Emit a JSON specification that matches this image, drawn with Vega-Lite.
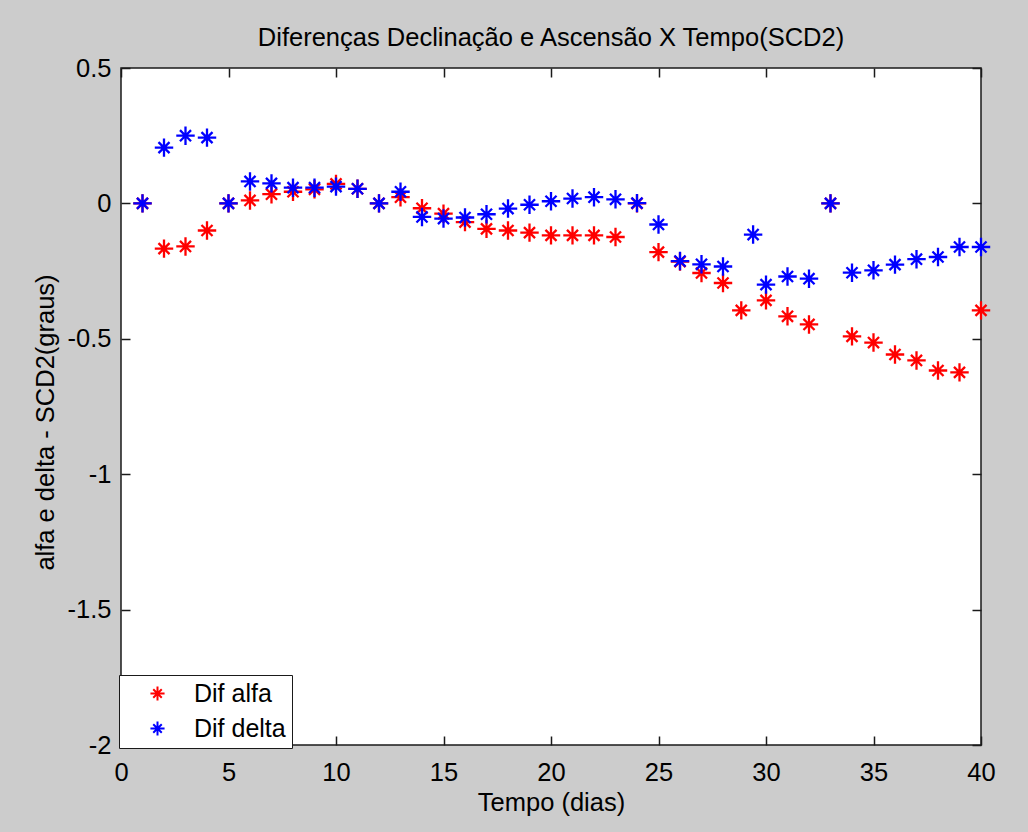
{
  "$schema": "https://vega.github.io/schema/vega-lite/v6.json",
  "autosize": "none",
  "width": 860,
  "height": 677,
  "padding": {"left": 121, "top": 68, "right": 47, "bottom": 87},
  "background": "#cccccc",
  "title": {"text": "Diferenças Declinação e Ascensão X Tempo(SCD2)", "font": "Liberation Sans", "fontSize": 25.5, "fontWeight": "normal", "color": "#000000", "offset": 5, "anchor": "middle"},
  "config": {
    "view": {"fill": "#ffffff", "stroke": "#1a1a1a", "strokeWidth": 1.5},
    "axis": {"labelFont": "Liberation Sans", "titleFont": "Liberation Sans", "labelFontSize": 25.5, "titleFontSize": 25.5, "titleFontWeight": "normal", "labelColor": "#000000", "titleColor": "#000000", "grid": false, "domain": false, "tickColor": "#1a1a1a", "tickWidth": 1.5, "tickSize": 9, "labelFlush": false}
  },
  "data": {"values": [
    {"t": 1, "v": 0, "s": "Dif alfa"},
    {"t": 2, "v": -0.167, "s": "Dif alfa"},
    {"t": 3, "v": -0.159, "s": "Dif alfa"},
    {"t": 4, "v": -0.1, "s": "Dif alfa"},
    {"t": 5, "v": 0, "s": "Dif alfa"},
    {"t": 6, "v": 0.011, "s": "Dif alfa"},
    {"t": 7, "v": 0.034, "s": "Dif alfa"},
    {"t": 8, "v": 0.043, "s": "Dif alfa"},
    {"t": 9, "v": 0.052, "s": "Dif alfa"},
    {"t": 10, "v": 0.072, "s": "Dif alfa"},
    {"t": 11, "v": 0.054, "s": "Dif alfa"},
    {"t": 12, "v": 0, "s": "Dif alfa"},
    {"t": 13, "v": 0.023, "s": "Dif alfa"},
    {"t": 14, "v": -0.018, "s": "Dif alfa"},
    {"t": 15, "v": -0.038, "s": "Dif alfa"},
    {"t": 16, "v": -0.069, "s": "Dif alfa"},
    {"t": 17, "v": -0.094, "s": "Dif alfa"},
    {"t": 18, "v": -0.1, "s": "Dif alfa"},
    {"t": 19, "v": -0.108, "s": "Dif alfa"},
    {"t": 20, "v": -0.118, "s": "Dif alfa"},
    {"t": 21, "v": -0.118, "s": "Dif alfa"},
    {"t": 22, "v": -0.118, "s": "Dif alfa"},
    {"t": 23, "v": -0.124, "s": "Dif alfa"},
    {"t": 24, "v": 0, "s": "Dif alfa"},
    {"t": 25, "v": -0.18, "s": "Dif alfa"},
    {"t": 26, "v": -0.215, "s": "Dif alfa"},
    {"t": 27, "v": -0.257, "s": "Dif alfa"},
    {"t": 28, "v": -0.294, "s": "Dif alfa"},
    {"t": 28.85, "v": -0.395, "s": "Dif alfa"},
    {"t": 30, "v": -0.358, "s": "Dif alfa"},
    {"t": 31, "v": -0.417, "s": "Dif alfa"},
    {"t": 32, "v": -0.447, "s": "Dif alfa"},
    {"t": 33, "v": 0, "s": "Dif alfa"},
    {"t": 34, "v": -0.491, "s": "Dif alfa"},
    {"t": 35, "v": -0.514, "s": "Dif alfa"},
    {"t": 36, "v": -0.558, "s": "Dif alfa"},
    {"t": 37, "v": -0.58, "s": "Dif alfa"},
    {"t": 38, "v": -0.617, "s": "Dif alfa"},
    {"t": 39, "v": -0.624, "s": "Dif alfa"},
    {"t": 40, "v": -0.395, "s": "Dif alfa"},
    {"t": 1, "v": 0, "s": "Dif delta"},
    {"t": 2, "v": 0.206, "s": "Dif delta"},
    {"t": 3, "v": 0.25, "s": "Dif delta"},
    {"t": 4, "v": 0.243, "s": "Dif delta"},
    {"t": 5, "v": 0, "s": "Dif delta"},
    {"t": 6, "v": 0.081, "s": "Dif delta"},
    {"t": 7, "v": 0.074, "s": "Dif delta"},
    {"t": 8, "v": 0.058, "s": "Dif delta"},
    {"t": 9, "v": 0.058, "s": "Dif delta"},
    {"t": 10, "v": 0.062, "s": "Dif delta"},
    {"t": 11, "v": 0.054, "s": "Dif delta"},
    {"t": 12, "v": 0, "s": "Dif delta"},
    {"t": 13, "v": 0.043, "s": "Dif delta"},
    {"t": 14, "v": -0.05, "s": "Dif delta"},
    {"t": 15, "v": -0.056, "s": "Dif delta"},
    {"t": 16, "v": -0.052, "s": "Dif delta"},
    {"t": 17, "v": -0.04, "s": "Dif delta"},
    {"t": 18, "v": -0.019, "s": "Dif delta"},
    {"t": 19, "v": -0.005, "s": "Dif delta"},
    {"t": 20, "v": 0.008, "s": "Dif delta"},
    {"t": 21, "v": 0.018, "s": "Dif delta"},
    {"t": 22, "v": 0.023, "s": "Dif delta"},
    {"t": 23, "v": 0.015, "s": "Dif delta"},
    {"t": 24, "v": 0.001, "s": "Dif delta"},
    {"t": 25, "v": -0.078, "s": "Dif delta"},
    {"t": 26, "v": -0.213, "s": "Dif delta"},
    {"t": 27, "v": -0.225, "s": "Dif delta"},
    {"t": 28, "v": -0.233, "s": "Dif delta"},
    {"t": 29.4, "v": -0.115, "s": "Dif delta"},
    {"t": 30, "v": -0.3, "s": "Dif delta"},
    {"t": 31, "v": -0.27, "s": "Dif delta"},
    {"t": 32, "v": -0.278, "s": "Dif delta"},
    {"t": 33, "v": 0, "s": "Dif delta"},
    {"t": 34, "v": -0.256, "s": "Dif delta"},
    {"t": 35, "v": -0.247, "s": "Dif delta"},
    {"t": 36, "v": -0.226, "s": "Dif delta"},
    {"t": 37, "v": -0.206, "s": "Dif delta"},
    {"t": 38, "v": -0.198, "s": "Dif delta"},
    {"t": 39, "v": -0.161, "s": "Dif delta"},
    {"t": 40, "v": -0.161, "s": "Dif delta"}
  ]},
  "layer": [
    {
      "mark": {"type": "point", "opacity": 0},
      "encoding": {
        "x": {"field": "t", "type": "quantitative", "scale": {"domain": [0, 40], "nice": false, "zero": false},
              "axis": {"orient": "top", "offset": -677, "values": [0, 5, 10, 15, 20, 25, 30, 35, 40], "labels": false, "title": null}},
        "y": {"field": "v", "type": "quantitative", "scale": {"domain": [-2, 0.5], "nice": false, "zero": false},
              "axis": {"orient": "right", "offset": -860, "values": [-2, -1.5, -1, -0.5, 0, 0.5], "labels": false, "title": null}}
      }
    },
    {
      "mark": {"type": "point", "opacity": 0},
      "encoding": {
        "x": {"field": "t", "type": "quantitative", "scale": {"domain": [0, 40], "nice": false, "zero": false},
              "axis": {"orient": "bottom", "offset": -677, "values": [0, 5, 10, 15, 20, 25, 30, 35, 40], "labels": false, "title": null}},
        "y": {"field": "v", "type": "quantitative", "scale": {"domain": [-2, 0.5], "nice": false, "zero": false},
              "axis": {"orient": "left", "offset": -860, "values": [-2, -1.5, -1, -0.5, 0, 0.5], "labels": false, "title": null}}
      }
    },
    {
      "mark": {"type": "point", "filled": false, "shape": "M-1,0L1,0M0,-1L0,1M-0.6,-0.6L0.6,0.6M-0.6,0.6L0.6,-0.6", "size": 340, "strokeWidth": 2.3, "opacity": 1},
      "encoding": {
        "x": {"field": "t", "type": "quantitative", "scale": {"domain": [0, 40], "nice": false, "zero": false},
              "axis": {"orient": "bottom", "ticks": false, "values": [0, 5, 10, 15, 20, 25, 30, 35, 40], "title": "Tempo (dias)", "labelPadding": 15, "titleY": 57, "titleBaseline": "middle"}},
        "y": {"field": "v", "type": "quantitative", "scale": {"domain": [-2, 0.5], "nice": false, "zero": false},
              "axis": {"orient": "left", "ticks": false, "values": [-2, -1.5, -1, -0.5, 0, 0.5], "labelExpr": "'' + datum.value", "title": "alfa e delta - SCD2(graus)", "labelPadding": 10, "titleX": -76, "titleY": 354, "titleBaseline": "middle", "titleAngle": 270}},
        "color": {"field": "s", "type": "nominal", "scale": {"domain": ["Dif alfa", "Dif delta"], "range": ["#ff0000", "#0000ff"]},
                  "legend": {"orient": "none", "legendX": -2, "legendY": 607, "title": null, "strokeColor": "#1a1a1a", "fillColor": "#ffffff", "padding": 6, "labelFont": "Liberation Sans", "labelFontSize": 25, "labelColor": "#000000", "symbolType": "M-1,0L1,0M0,-1L0,1M-0.6,-0.6L0.6,0.6M-0.6,0.6L0.6,-0.6", "symbolSize": 200, "symbolStrokeWidth": 2, "symbolOffset": 20, "labelOffset": 24, "rowPadding": 9}}
      }
    }
  ],
  "resolve": {"axis": {"x": "independent", "y": "independent"}}
}
